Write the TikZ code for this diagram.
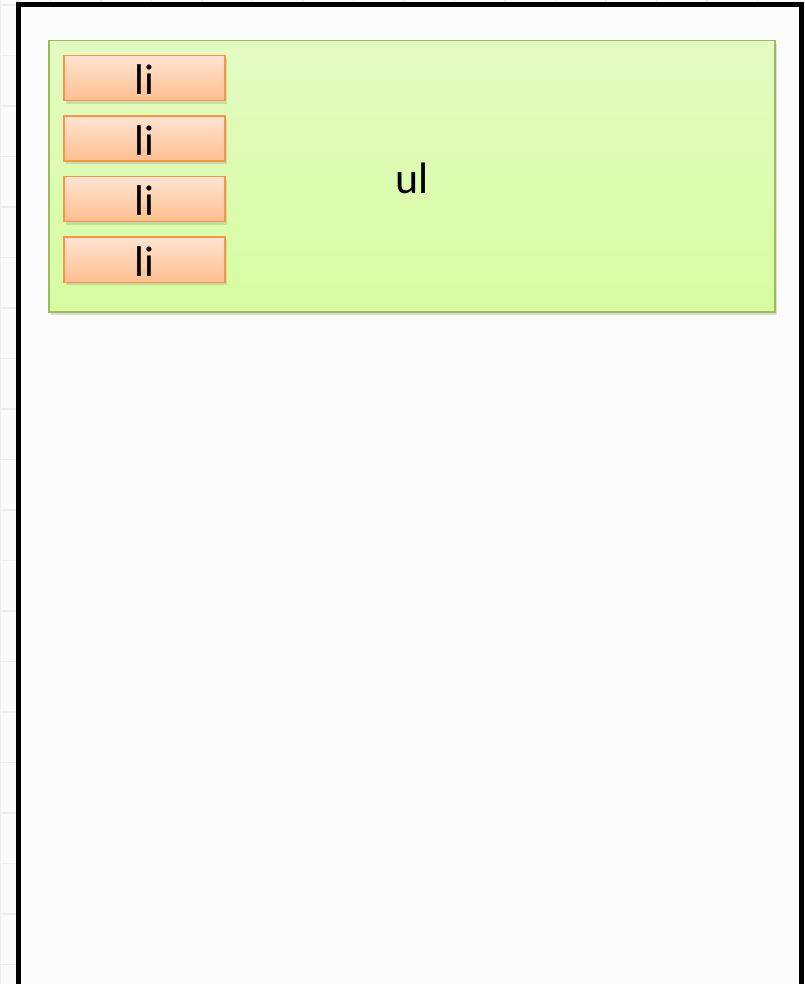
\documentclass[tikz,border=0pt]{standalone}
\usepackage{fontspec}
\setmainfont{Carlito}
\usetikzlibrary{shadows}
\definecolor{ink}{HTML}{000000}
\definecolor{gridline}{HTML}{ECEEE8}
\definecolor{ultop}{HTML}{E3FBC3}
\definecolor{ulbot}{HTML}{D8FCA0}
\definecolor{ulline}{HTML}{9BBB59}
\definecolor{litop}{HTML}{FFE4D2}
\definecolor{libot}{HTML}{FFBE8E}
\definecolor{liline}{HTML}{F79646}

\begin{document}
\begin{tikzpicture}[x=1pt,y=-1pt]
\tikzset{
  listbox/.style={draw=ulline,line width=1.5pt,top color=ultop,bottom color=ulbot,
    drop shadow={shadow xshift=2pt,shadow yshift=-3pt,opacity=.25},
    minimum width=726pt,minimum height=271pt,anchor=north west,inner sep=0pt,
    text height=35pt,text depth=0pt,font=\fontsize{44}{44}\selectfont},
  itembox/.style={draw=liline,line width=1.5pt,top color=litop,bottom color=libot,
    drop shadow={shadow xshift=2pt,shadow yshift=-3pt,opacity=.25},
    minimum width=161pt,minimum height=45pt,anchor=north west,inner sep=0pt,
    text height=33pt,text depth=0pt,font=\fontsize{43}{43}\selectfont}
}
\useasboundingbox (0,0) rectangle (804,984);
\fill[white!97!gray] (0,0) rectangle (804,984);
% faint page grid behind the frame
\foreach \g in {0,...,19}{
  \draw[gridline,line width=1.5pt] (0,5+50.5*\g)--(804,5+50.5*\g);
}
\foreach \g in {0,...,16}{
  \draw[gridline,line width=1.5pt] (0+50.5*\g,0)--(0+50.5*\g,984);
}
% page frame
\fill[white!99!black] (18,5) rectangle (801,990);
\draw[ink,line width=5pt] (18,990)--(18,5)--(801.5,5)--(801.5,990);

\node[listbox] (ul) at (48,40) {ul};
\foreach \i/\y in {1/55,2/115.5,3/176,4/236.5}{
  \node[itembox] (li\i) at (63,\y) {li};
}
\end{tikzpicture}
\end{document}
